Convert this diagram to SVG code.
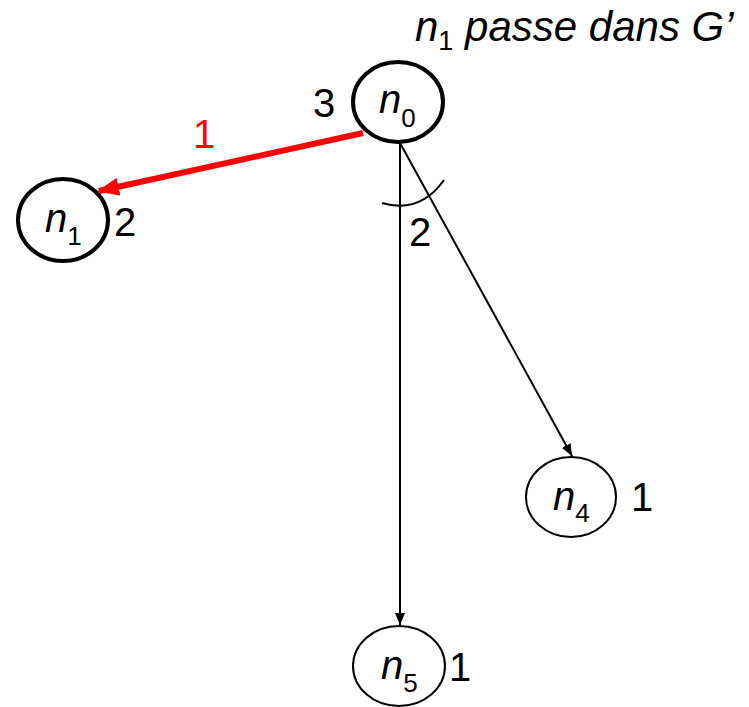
<svg xmlns="http://www.w3.org/2000/svg" width="749" height="707" viewBox="0 0 749 707">
<defs>
<style>
text{font-family:"Liberation Sans",Arial,sans-serif;fill:#000}
.lbl{font-size:40px}
.nm{font-size:40px;font-style:italic}
.sub{font-size:26px;font-style:normal}
.thick{fill:#fff;stroke:#000;stroke-width:4}
.thin{fill:#fff;stroke:#000;stroke-width:2}
.edge{stroke:#000;stroke-width:2;fill:none}
</style>
<marker id="ah" markerWidth="12" markerHeight="10" refX="12" refY="5" orient="auto" markerUnits="userSpaceOnUse"><path d="M0,0 L12,5 L0,10 Z" fill="#000"/></marker>
<marker id="ahr" markerWidth="22" markerHeight="18" refX="20" refY="9" orient="auto" markerUnits="userSpaceOnUse"><path d="M0,0 L22,9 L0,18 Z" fill="#f00"/></marker>
</defs>
<text x="415" y="41" style="font-size:42px;font-style:italic">n<tspan style="font-size:27px;font-style:normal" dy="9">1</tspan><tspan dy="-9"> passe dans G’</tspan></text>
<g id="connectors">
<line class="edge" x1="400" y1="143" x2="400" y2="625" marker-end="url(#ah)"/>
<line class="edge" x1="400" y1="143" x2="572" y2="456" marker-end="url(#ah)"/>
<path class="edge" d="M382,203 Q420,214 444,180"/>
<line x1="363" y1="133" x2="99" y2="191" stroke="#f00" stroke-width="6" marker-end="url(#ahr)"/>
<text x="193" y="148" class="lbl" style="fill:#f00">1</text>
<text x="409" y="246" class="lbl">2</text>
</g>
<g id="n0">
<ellipse class="thick" cx="398" cy="102" rx="45" ry="40"/>
<text x="379" y="113" class="nm">n<tspan class="sub" dy="14">0</tspan></text>
<text x="313" y="117" class="lbl">3</text>
</g>
<g id="n1">
<ellipse class="thick" cx="63" cy="220" rx="45" ry="41"/>
<text x="45" y="232" class="nm">n<tspan class="sub" dy="13">1</tspan></text>
<text x="114" y="236" class="lbl">2</text>
</g>
<g id="n4">
<ellipse class="thin" cx="571" cy="497" rx="45" ry="40"/>
<text x="553" y="510" class="nm">n<tspan class="sub" dy="12">4</tspan></text>
<text x="631" y="511" class="lbl">1</text>
</g>
<g id="n5">
<ellipse class="thin" cx="399" cy="666" rx="46" ry="40"/>
<text x="381" y="679" class="nm">n<tspan class="sub" dy="13">5</tspan></text>
<text x="449" y="681" class="lbl">1</text>
</g>
</svg>
